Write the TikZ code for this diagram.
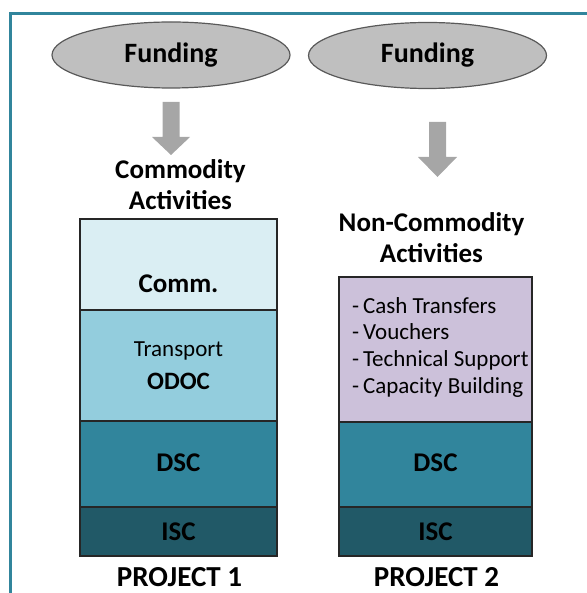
\documentclass[tikz,border=0pt]{standalone}
\usepackage{fontspec}
\setmainfont{Carlito}
\usetikzlibrary{shapes.geometric}
\definecolor{frame}{HTML}{31859C}
\definecolor{ellfill}{HTML}{BFBFBF}
\definecolor{ellline}{HTML}{595959}
\definecolor{arrowgray}{HTML}{A6A6A6}
\definecolor{commfill}{HTML}{DAEEF3}
\definecolor{odocfill}{HTML}{93CDDD}
\definecolor{dscfill}{HTML}{31859C}
\definecolor{iscfill}{HTML}{215967}
\definecolor{purplefill}{HTML}{CCC1DA}
\tikzset{
  fund/.style={ellipse, draw=ellline, fill=ellfill, line width=1.2pt, minimum width=238pt, minimum height=66pt, inner sep=0pt, font=\fontsize{28}{32}\selectfont\bfseries},
  layer/.style={draw=black!85, line width=1.2pt, inner sep=0pt},
  big/.style={font=\fontsize{27}{31}\selectfont\bfseries, align=center, inner sep=0pt},
  mid/.style={font=\fontsize{23}{27}\selectfont, align=center, inner sep=0pt},
  lst/.style={font=\fontsize{23}{26.7}\selectfont, align=left, inner sep=0pt},
  proj/.style={font=\fontsize{29}{32}\selectfont\bfseries, inner sep=0pt, anchor=base},
}
\begin{document}
\begin{tikzpicture}[x=1pt,y=-1pt]
\useasboundingbox (0,0) rectangle (586,593);
% frame
\draw[frame, line width=2.6pt] (10.3,600) -- (10.3,13.8) -- (600,13.8);
% funding ellipses
\node[fund] (f1) at (171,55) {Funding};
\node[fund] (f2) at (427.5,55.5) {Funding};
% arrows
\fill[arrowgray] (162.5,102) -- (179.5,102) -- (179.5,137) -- (190,137) -- (171,155) -- (152,137) -- (162.5,137) -- cycle;
\fill[arrowgray] (429,122) -- (446,122) -- (446,157) -- (457,157) -- (437.5,177) -- (418,157) -- (429,157) -- cycle;
% activity labels
\node[big] (a1) at (180.5,184.5) {Commodity\\Activities};
\node[big] (a2) at (431.5,237.5) {Non-Commodity\\Activities};
% project 1 stack
\node[layer, fill=commfill, minimum width=197pt, minimum height=91pt] (comm) at (178.5,264.5) {};
\node[layer, fill=odocfill, minimum width=197pt, minimum height=111pt] (odoc) at (178.5,365.5) {};
\node[layer, fill=dscfill, minimum width=197pt, minimum height=86pt] (dsc1) at (178.5,464) {};
\node[layer, fill=iscfill, minimum width=197pt, minimum height=49pt] (isc1) at (178.5,531.5) {};
\node[big] (tcomm) at (178.5,284) {Comm.};
\node[mid] (ttrans) at (178.5,351) {Transport};
\node[big, font=\fontsize{25}{28}\selectfont\bfseries] (todoc) at (178.5,381) {ODOC};
\node[big] (tdsc1) at (178.5,463) {DSC};
\node[big] (tisc1) at (178.5,532) {ISC};
% project 2 stack
\node[layer, fill=purplefill, minimum width=193pt, minimum height=145pt] (nc) at (435.5,349.5) {};
\node[layer, fill=dscfill, minimum width=193pt, minimum height=85pt] (dsc2) at (435.5,464.5) {};
\node[layer, fill=iscfill, minimum width=193pt, minimum height=49pt] (isc2) at (435.5,531.5) {};
\node[lst, anchor=north west] (list) at (352,297) {-\,Cash Transfers\\-\,Vouchers\\-\,Technical Support\\-\,Capacity Building};
\node[big] (tdsc2) at (435.5,463) {DSC};
\node[big] (tisc2) at (435.5,532) {ISC};
% project labels
\node[proj] (p1) at (179.5,586) {PROJECT 1};
\node[proj] (p2) at (436.5,586) {PROJECT 2};
\end{tikzpicture}
\end{document}
